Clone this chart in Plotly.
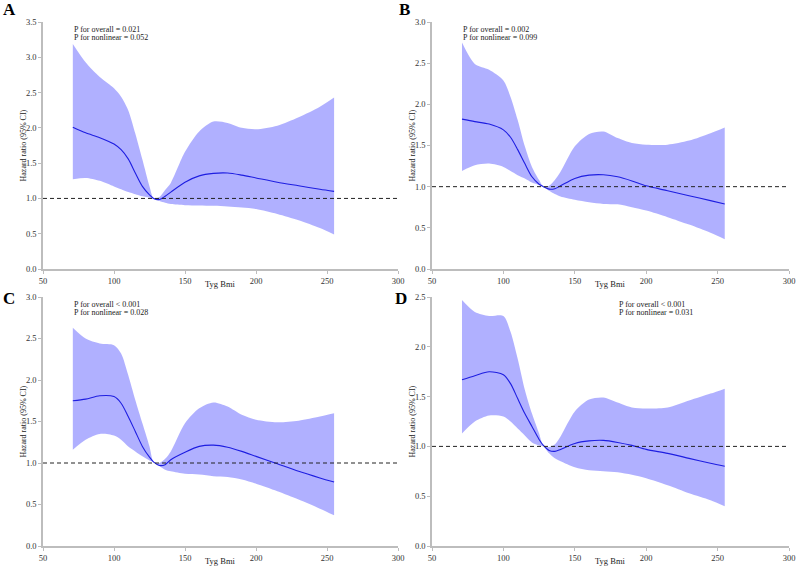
import plotly.graph_objects as go

# ---------------- data ----------------
tyg_bmi = [71, 80, 90, 100, 105, 110, 115, 120, 125, 128, 132, 136, 140,
           150, 160, 170, 180, 190, 200, 215, 230, 245, 255]

a_hr = [2.01, 1.93, 1.86, 1.77, 1.69, 1.56, 1.36, 1.17, 1.05, 1.00, 0.985, 1.03, 1.09,
        1.23, 1.32, 1.355, 1.36, 1.33, 1.29, 1.23, 1.18, 1.13, 1.10]
a_hi = [3.19, 2.93, 2.72, 2.56, 2.44, 2.25, 1.92, 1.55, 1.17, 1.00, 1.02, 1.12, 1.22,
        1.66, 1.95, 2.09, 2.07, 2.00, 1.98, 2.03, 2.15, 2.30, 2.43]
a_lo = [1.27, 1.29, 1.25, 1.17, 1.13, 1.09, 1.06, 1.03, 1.01, 0.99, 0.965, 0.94, 0.92,
        0.905, 0.90, 0.895, 0.885, 0.87, 0.85, 0.78, 0.69, 0.58, 0.49]

b_hr = [1.82, 1.79, 1.76, 1.69, 1.60, 1.45, 1.28, 1.12, 1.03, 1.00, 0.97, 0.975, 1.01,
        1.10, 1.14, 1.145, 1.12, 1.07, 1.01, 0.95, 0.89, 0.83, 0.79]
b_hi = [2.75, 2.49, 2.42, 2.29, 2.09, 1.81, 1.49, 1.24, 1.08, 1.00, 1.01, 1.08, 1.18,
        1.49, 1.64, 1.67, 1.59, 1.53, 1.51, 1.51, 1.56, 1.65, 1.72]
b_lo = [1.19, 1.26, 1.28, 1.24, 1.19, 1.14, 1.10, 1.05, 1.02, 1.00, 0.95, 0.91, 0.88,
        0.84, 0.81, 0.79, 0.785, 0.75, 0.71, 0.63, 0.54, 0.44, 0.36]

c_hr = [1.75, 1.77, 1.81, 1.80, 1.72, 1.56, 1.38, 1.20, 1.07, 1.01, 0.97, 0.98, 1.04,
        1.13, 1.20, 1.215, 1.19, 1.14, 1.08, 0.99, 0.90, 0.82, 0.77]
c_hi = [2.63, 2.50, 2.44, 2.42, 2.32, 2.06, 1.76, 1.48, 1.20, 1.01, 1.00, 1.05, 1.14,
        1.48, 1.66, 1.73, 1.68, 1.58, 1.52, 1.49, 1.51, 1.56, 1.60]
c_lo = [1.16, 1.28, 1.35, 1.33, 1.28, 1.20, 1.14, 1.08, 1.03, 1.01, 0.96, 0.92, 0.90,
        0.87, 0.86, 0.84, 0.83, 0.80, 0.75, 0.66, 0.56, 0.45, 0.37]

d_hr = [1.67, 1.71, 1.75, 1.72, 1.63, 1.48, 1.33, 1.20, 1.07, 1.01, 0.96, 0.95, 0.97,
        1.03, 1.055, 1.06, 1.04, 1.01, 0.97, 0.93, 0.88, 0.83, 0.80]
d_hi = [2.47, 2.35, 2.31, 2.31, 2.15, 1.88, 1.57, 1.33, 1.13, 1.01, 0.995, 1.02, 1.10,
        1.35, 1.47, 1.49, 1.44, 1.39, 1.38, 1.39, 1.46, 1.53, 1.58]
d_lo = [1.13, 1.25, 1.31, 1.30, 1.25, 1.18, 1.11, 1.04, 1.01, 1.00, 0.93, 0.88, 0.85,
        0.79, 0.76, 0.75, 0.74, 0.715, 0.68, 0.61, 0.53, 0.46, 0.40]

panel_labels = ["A", "B", "C", "D"]
p_overall = ["P for overall = 0.021", "P for overall = 0.002",
             "P for overall < 0.001", "P for overall < 0.001"]
p_nonlinear = ["P for nonlinear = 0.052", "P for nonlinear = 0.099",
               "P for nonlinear = 0.028", "P for nonlinear = 0.031"]
y_max = [3.5, 3.0, 3.0, 2.5]
x_ticks = [50, 100, 150, 200, 250, 300]

series = [(a_hr, a_hi, a_lo), (b_hr, b_hi, b_lo), (c_hr, c_hi, c_lo), (d_hr, d_hi, d_lo)]

# ---------------- layout geometry (pixels) ----------------
W, H = 798, 566
# (x0, x1, ytop, ybottom) of each plot area in pixels
boxes = [(43, 398, 22, 269), (432, 789, 22, 269),
         (43, 398, 297, 546), (432, 789, 297, 546)]
letter_pos = [(9, 9), (404, 9), (9, 298), (401, 298)]
pnote_x = [0.082, 0.081, 0.082, 0.518]

FONT = "Liberation Serif"
fill_col = "rgba(0,0,255,0.31)"
line_col = "rgb(30,30,225)"
axis_col = "#bdbdbd"

fig = go.Figure()
layout = dict(width=W, height=H, margin=dict(l=0, r=0, t=0, b=0, pad=0),
              paper_bgcolor="white", plot_bgcolor="white", showlegend=False)
annotations = []
shapes = []

for i, (hr, hi, lo) in enumerate(series):
    n = "" if i == 0 else str(i + 1)
    xa, ya = "x" + n, "y" + n
    x0, x1, yt, yb = boxes[i]
    layout["xaxis" + n] = dict(
        domain=[x0 / W, x1 / W], anchor=ya, range=[50, 300], tickvals=x_ticks,
        showline=True, linecolor=axis_col, linewidth=1.5, ticks="outside", ticklen=3,
        tickcolor=axis_col, showgrid=False, zeroline=False, automargin=False,
        tickfont=dict(family=FONT, size=8.5, color="#333"))
    layout["yaxis" + n] = dict(
        domain=[(H - yb) / H, (H - yt) / H], anchor=xa, range=[0, y_max[i]], dtick=0.5,
        tickformat=".1f", showline=True, linecolor=axis_col, linewidth=1.5,
        ticks="outside", ticklen=3, tickcolor=axis_col, showgrid=False, zeroline=False,
        automargin=False, tickfont=dict(family=FONT, size=8.5, color="#333"))

    fig.add_trace(go.Scatter(x=tyg_bmi, y=lo, xaxis=xa, yaxis=ya, mode="lines",
                             line=dict(width=0, shape="spline", smoothing=0.8),
                             hoverinfo="skip"))
    fig.add_trace(go.Scatter(x=tyg_bmi, y=hi, xaxis=xa, yaxis=ya, mode="lines",
                             line=dict(width=0, shape="spline", smoothing=0.8),
                             fill="tonexty", fillcolor=fill_col, hoverinfo="skip"))
    fig.add_trace(go.Scatter(x=tyg_bmi, y=hr, xaxis=xa, yaxis=ya, mode="lines",
                             line=dict(color=line_col, width=1.1, shape="spline",
                                       smoothing=0.8)))
    shapes.append(dict(type="line", xref=xa + " domain", yref=ya, x0=0, x1=1, y0=1, y1=1,
                       line=dict(color="#222", width=1, dash="4px,3px")))

    # panel letter
    lx, ly = letter_pos[i]
    annotations.append(dict(text="<b>" + panel_labels[i] + "</b>", xref="paper", yref="paper",
                            x=lx / W, y=1 - ly / H, xanchor="center", yanchor="middle",
                            showarrow=False, font=dict(family=FONT, size=17, color="black")))
    # P notes
    for k, txt in enumerate([p_overall[i], p_nonlinear[i]]):
        py = yt + 7 + k * 8.7
        annotations.append(dict(text=txt, xref=xa + " domain", yref="paper",
                                x=pnote_x[i], y=1 - py / H, xanchor="left", yanchor="middle",
                                showarrow=False, font=dict(family=FONT, size=8, color="#222")))
    # axis titles
    annotations.append(dict(text="Hazard ratio (95% CI)", xref="paper", yref="paper",
                            x=(x0 - 20) / W, y=1 - ((yt + yb) / 2) / H, textangle=-90,
                            xanchor="center", yanchor="middle", showarrow=False,
                            font=dict(family=FONT, size=8, color="#222")))
    annotations.append(dict(text="Tyg Bmi", xref="paper", yref="paper",
                            x=(x0 + x1) / 2 / W, y=1 - (yb + 15) / H,
                            xanchor="center", yanchor="middle", showarrow=False,
                            font=dict(family=FONT, size=8.5, color="#222")))

layout["annotations"] = annotations
layout["shapes"] = shapes
fig.update_layout(**layout)
fig.write_html("out.html", config={"displayModeBar": False},
               post_script="document.body.style.margin='0';document.body.style.padding='0';")
